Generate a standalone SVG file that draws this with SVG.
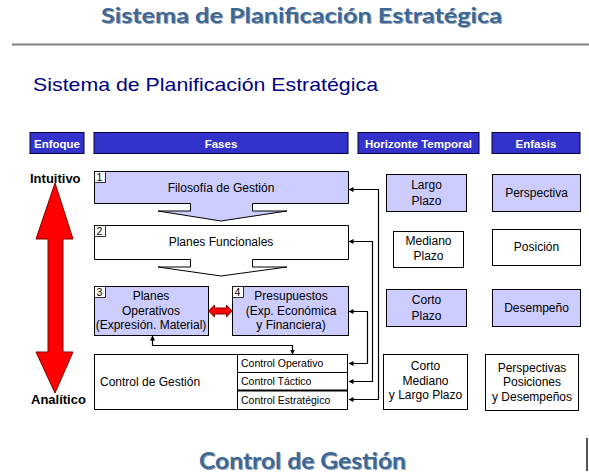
<svg xmlns="http://www.w3.org/2000/svg" width="589" height="476" viewBox="0 0 589 476">
<style>
  .t { font-family: "Liberation Sans", Arial, sans-serif; fill: #000; }
  .c { text-anchor: middle; }
  .hdr { fill: #3333cc; stroke: #000033; stroke-width: 1; }
  .hdrt { font-family: "Liberation Sans", Arial, sans-serif; font-weight: bold; font-size: 11.5px; fill: #fff; text-anchor: middle; }
  .lav { fill: #ccccff; stroke: #000; stroke-width: 1; }
  .wht { fill: #fff; stroke: #000; stroke-width: 1; }
  .num { fill: #fff; stroke: #000; stroke-width: 0.8; }
  .red { fill: #ff0000; stroke: #800000; stroke-width: 1; }
  .conn { fill: none; stroke: #000; stroke-width: 1.2; }
  .big { font-family: Lato, "Liberation Sans", sans-serif; font-weight: bold; text-anchor: middle; }
  .side { font-family: "Liberation Sans", Arial, sans-serif; font-weight: bold; font-size: 13px; fill: #000; }
</style>
<defs>
  <marker id="ah" viewBox="0 0 10 10" refX="9" refY="5" markerWidth="5" markerHeight="5" orient="auto-start-reverse" markerUnits="userSpaceOnUse">
    <path d="M0,0 L10,5 L0,10 z" fill="#000"/>
  </marker>
</defs>
<rect width="589" height="476" fill="#fff"/>

<g id="title">
  <text class="big" x="302.5" y="23.5" font-size="21" fill="#9aa6b4" textLength="401" lengthAdjust="spacingAndGlyphs">Sistema de Planificación Estratégica</text>
  <text class="big" x="301.5" y="22.5" font-size="21" fill="#3d6795" textLength="401" lengthAdjust="spacingAndGlyphs">Sistema de Planificación Estratégica</text>
  <line x1="12" y1="44.5" x2="589" y2="44.5" stroke="#808080" stroke-width="2"/>
  <text class="t" x="33" y="90.5" font-size="19" style="fill:#000080" textLength="345" lengthAdjust="spacingAndGlyphs">Sistema de Planificación Estratégica</text>
</g>

<g id="headers">
  <rect class="hdr" x="30" y="132.5" width="54" height="21"/>
  <text class="hdrt" x="57" y="147.5">Enfoque</text>
  <rect class="hdr" x="94" y="132.5" width="254" height="21"/>
  <text class="hdrt" x="221" y="147.5">Fases</text>
  <rect class="hdr" x="358" y="132.5" width="121" height="21"/>
  <text class="hdrt" x="418.5" y="147.5">Horizonte Temporal</text>
  <rect class="hdr" x="492" y="132.5" width="88" height="21"/>
  <text class="hdrt" x="536" y="147.5">Enfasis</text>
</g>

<g id="enfoque">
  <text class="side" x="30" y="183">Intuitivo</text>
  <text class="side" x="31" y="404">Analítico</text>
  <polygon class="red" points="55,183 73,239 63,239 63,352 73,352 55,393 36,352 48,352 48,239 36,239"/>
</g>

<g id="fase1">
  <polygon class="lav" points="94.5,171.5 348.5,171.5 348.5,203.5 252.5,203.5 252.5,211 287,211 221,221 158,211 190.5,211 190.5,203.5 94.5,203.5"/>
  <rect class="num" x="94.5" y="171.5" width="11" height="11"/>
  <text class="t" x="96.5" y="181" font-size="10.5">1</text>
  <text class="t c" x="221" y="191.5" font-size="12">Filosofía de Gestión</text>
</g>

<g id="fase2">
  <polygon class="wht" points="94.5,225.5 348.5,225.5 348.5,259.5 252.5,259.5 252.5,267 287,267 221,276 158,267 190.5,267 190.5,259.5 94.5,259.5"/>
  <rect class="num" x="94.5" y="225.5" width="11" height="11"/>
  <text class="t" x="96.5" y="235" font-size="10.5">2</text>
  <text class="t c" x="221" y="246" font-size="12">Planes Funcionales</text>
</g>

<g id="fase3">
  <rect class="lav" x="94.5" y="286.5" width="114" height="49"/>
  <rect class="num" x="94.5" y="286.5" width="11" height="11"/>
  <text class="t" x="96.5" y="296" font-size="10.5">3</text>
  <text class="t c" x="151" y="300" font-size="12">Planes</text>
  <text class="t c" x="151" y="314.5" font-size="12">Operativos</text>
  <text class="t c" x="151" y="329" font-size="12">(Expresión. Material)</text>
</g>

<g id="fase4">
  <rect class="lav" x="232.5" y="286.5" width="116" height="49"/>
  <rect class="num" x="232.5" y="286.5" width="11" height="11"/>
  <text class="t" x="234.5" y="296" font-size="10.5">4</text>
  <text class="t c" x="291" y="300" font-size="12">Presupuestos</text>
  <text class="t c" x="291" y="314.5" font-size="12">(Exp. Económica</text>
  <text class="t c" x="291" y="329" font-size="12">y Financiera)</text>
</g>

<g id="control">
  <rect class="wht" x="94.5" y="354.5" width="253" height="55"/>
  <text class="t" x="100" y="385.5" font-size="12">Control de Gestión</text>
  <rect class="wht" x="237.5" y="354.5" width="110" height="18"/>
  <rect class="wht" x="237.5" y="372.5" width="110" height="18"/>
  <rect class="wht" x="237.5" y="390.5" width="110" height="19"/>
  <line x1="237.5" y1="390.5" x2="347.5" y2="390.5" stroke="#000" stroke-width="2"/>
  <text class="t" x="241" y="367" font-size="10.5">Control Operativo</text>
  <text class="t" x="241" y="385" font-size="10.5">Control Táctico</text>
  <text class="t" x="241" y="404" font-size="10.5">Control Estratégico</text>
</g>

<g id="horizonte">
  <rect class="lav" x="386.5" y="174.5" width="80" height="37"/>
  <text class="t c" x="426.5" y="189" font-size="12">Largo</text>
  <text class="t c" x="426.5" y="204.5" font-size="12">Plazo</text>
  <rect class="wht" x="393.5" y="231.5" width="70" height="36"/>
  <text class="t c" x="428.5" y="245" font-size="12">Mediano</text>
  <text class="t c" x="428.5" y="260" font-size="12">Plazo</text>
  <rect class="lav" x="386.5" y="289.5" width="80" height="37"/>
  <text class="t c" x="426.5" y="304" font-size="12">Corto</text>
  <text class="t c" x="426.5" y="319.5" font-size="12">Plazo</text>
  <rect class="wht" x="383.5" y="354.5" width="84" height="55"/>
  <text class="t c" x="425.5" y="370" font-size="12">Corto</text>
  <text class="t c" x="425.5" y="384.5" font-size="12">Mediano</text>
  <text class="t c" x="425.5" y="399" font-size="12">y Largo Plazo</text>
</g>

<g id="enfasis">
  <rect class="lav" x="492.5" y="174.5" width="88" height="37"/>
  <text class="t c" x="536.5" y="197" font-size="12">Perspectiva</text>
  <rect class="wht" x="492.5" y="229.5" width="88" height="36"/>
  <text class="t c" x="536.5" y="251" font-size="12">Posición</text>
  <rect class="lav" x="492.5" y="289.5" width="88" height="37"/>
  <text class="t c" x="536.5" y="312" font-size="12">Desempeño</text>
  <rect class="wht" x="485.5" y="354.5" width="93" height="56"/>
  <text class="t c" x="532" y="371.5" font-size="12">Perspectivas</text>
  <text class="t c" x="532" y="386" font-size="12">Posiciones</text>
  <text class="t c" x="532" y="400.5" font-size="12">y Desempeños</text>
</g>

<g id="connectors">
  <path class="conn" d="M 349 189.5 H 378.5 V 399.5 H 349" marker-start="url(#ah)" marker-end="url(#ah)"/>
  <path class="conn" d="M 349 241.5 H 372.5 V 381.5 H 349" marker-start="url(#ah)" marker-end="url(#ah)"/>
  <path class="conn" d="M 349 311.5 H 367.5 V 363.5 H 349" marker-start="url(#ah)" marker-end="url(#ah)"/>
  <path class="conn" d="M 152.5 336 V 345.5 H 292.5 V 354" marker-start="url(#ah)" marker-end="url(#ah)"/>
  <polygon class="red" points="208.5,311 214.5,305 214.5,308 226.5,308 226.5,305 232,311 226.5,317 226.5,314 214.5,314 214.5,317"/>
</g>

<g id="footer">
  <text class="big" x="303.5" y="469.5" font-size="23" fill="#9aa6b4" textLength="207" lengthAdjust="spacingAndGlyphs">Control de Gestión</text>
  <text class="big" x="302.5" y="468.5" font-size="23" fill="#3d6795" textLength="207" lengthAdjust="spacingAndGlyphs">Control de Gestión</text>
  <line x1="587" y1="438" x2="587" y2="471" stroke="#555" stroke-width="2"/>
</g>
</svg>
